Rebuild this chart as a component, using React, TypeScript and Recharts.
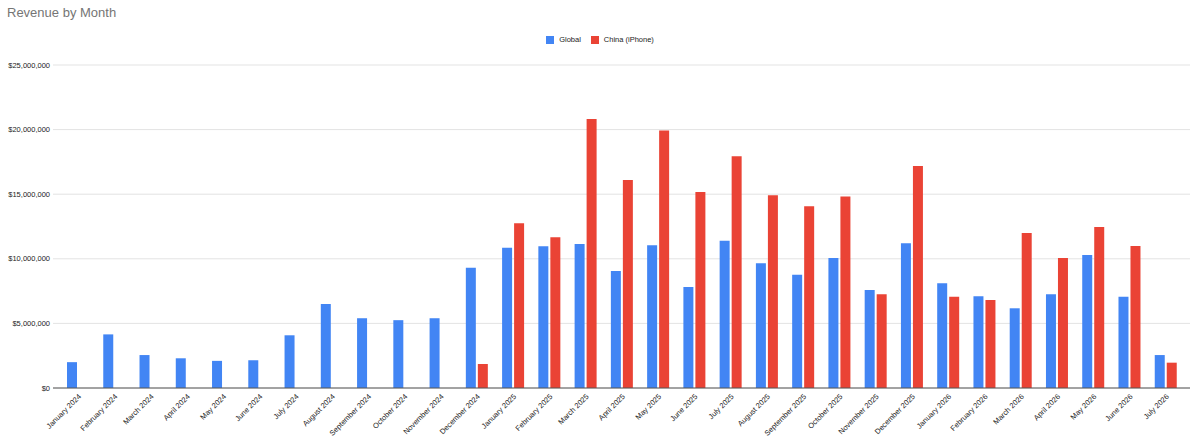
import React from 'react';
import { BarChart, Bar, XAxis, YAxis, CartesianGrid, Legend } from 'recharts';

const months = [
  'January 2024', 'February 2024', 'March 2024', 'April 2024', 'May 2024', 'June 2024',
  'July 2024', 'August 2024', 'September 2024', 'October 2024', 'November 2024', 'December 2024',
  'January 2025', 'February 2025', 'March 2025', 'April 2025', 'May 2025', 'June 2025',
  'July 2025', 'August 2025', 'September 2025', 'October 2025', 'November 2025', 'December 2025',
  'January 2026', 'February 2026', 'March 2026', 'April 2026', 'May 2026', 'June 2026', 'July 2026',
];

const globalRevenue = [
  2000000, 4150000, 2550000, 2300000, 2100000, 2150000,
  4080000, 6500000, 5400000, 5250000, 5400000, 9300000,
  10860000, 10970000, 11150000, 9060000, 11040000, 7820000,
  11400000, 9650000, 8770000, 10060000, 7580000, 11200000,
  8100000, 7100000, 6170000, 7250000, 10290000, 7070000, 2550000,
];

const chinaRevenue: (number | null)[] = [
  null, null, null, null, null, null,
  null, null, null, null, null, 1860000,
  12750000, 11660000, 20820000, 16100000, 19940000, 15170000,
  17930000, 14910000, 14060000, 14830000, 7250000, 17180000,
  7070000, 6810000, 12000000, 10060000, 12460000, 10990000, 1960000,
];

const yTicks = [0, 5000000, 10000000, 15000000, 20000000, 25000000];

const data = months.map((month, i) => ({
  month,
  global: globalRevenue[i],
  china: chinaRevenue[i],
}));

const FONT = 'Arial, "Liberation Sans", sans-serif';
const BLUE = '#4285F4';
const RED = '#EA4335';

const formatMoney = (v: number) => '$' + v.toLocaleString('en-US');

// rotated month labels, anchored at their right end just under the axis
const XTick = (props: any) => {
  const { x, y, payload } = props;
  return (
    <g transform={`translate(${x + 3.5},${y + 9})`}>
      <text
        x={0}
        y={0}
        textAnchor="end"
        transform="rotate(-45)"
        fontSize={7.5}
        fontFamily={FONT}
        fill="#222222"
      >
        {payload.value}
      </text>
    </g>
  );
};

const LegendContent = () => (
  <div style={{ display: 'flex', justifyContent: 'center', fontFamily: FONT, fontSize: 7.5, color: '#222' }}>
    <span style={{ display: 'flex', alignItems: 'center', marginRight: 10 }}>
      <span style={{ width: 8, height: 8, background: BLUE, display: 'inline-block', marginRight: 5 }} />
      Global
    </span>
    <span style={{ display: 'flex', alignItems: 'center' }}>
      <span style={{ width: 8, height: 8, background: RED, display: 'inline-block', marginRight: 5 }} />
      China (iPhone)
    </span>
  </div>
);

const App = () => {
  return (
    <div style={{ position: 'absolute', left: 0, top: 0, width: 1200, height: 441, background: '#fff' }}>
      <div
        style={{
          position: 'absolute',
          left: 7,
          top: 5,
          fontFamily: FONT,
          fontSize: 13,
          color: '#757575',
        }}
      >
        Revenue by Month
      </div>
      <BarChart
        width={1200}
        height={441}
        data={data}
        margin={{ top: 65, right: 10, left: 0, bottom: 0 }}
        barSize={10}
        barGap={2}
      >
        <CartesianGrid vertical={false} stroke="#e3e3e3" />
        <XAxis
          dataKey="month"
          interval={0}
          height={53}
          padding={{ left: 7, right: 6 }}
          tickLine={false}
          tickSize={0}
          tickMargin={0}
          axisLine={{ stroke: '#555' }}
          tick={<XTick />}
        />
        <YAxis
          width={53}
          domain={[0, 25000000]}
          ticks={yTicks}
          tickFormatter={formatMoney}
          axisLine={false}
          tickLine={false}
          tickSize={0}
          tickMargin={3}
          tick={{ fontSize: 7.5, fontFamily: FONT, fill: '#222' }}
        />
        <Legend
          verticalAlign="middle"
          align="center"
          layout="horizontal"
          wrapperStyle={{ top: 35, left: 0, width: 1200 }}
          content={<LegendContent />}
        />
        <Bar dataKey="global" name="Global" fill={BLUE} isAnimationActive={false} />
        <Bar dataKey="china" name="China (iPhone)" fill={RED} isAnimationActive={false} />
      </BarChart>
    </div>
  );
};

export default App;
